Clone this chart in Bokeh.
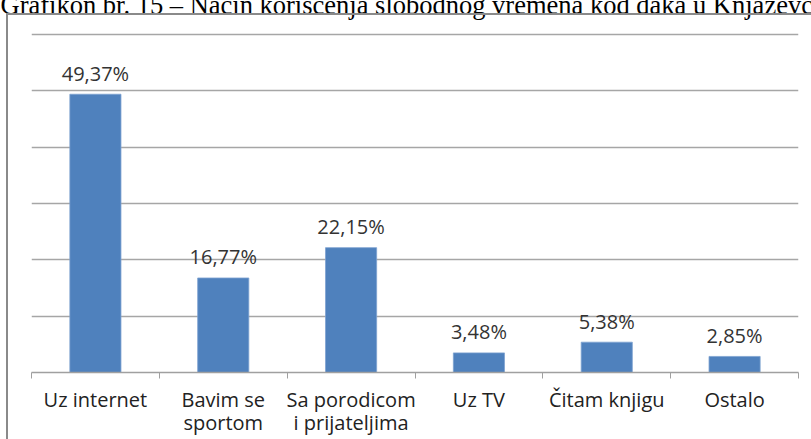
from bokeh.plotting import figure
from bokeh.models import ColumnDataSource, FixedTicker, Title, GlobalInlineStyleSheet
from bokeh.core.properties import value
from bokeh.embed import file_html
from bokeh.resources import INLINE

categories = ["Uz internet", "Bavim se\nsportom", "Sa porodicom\ni prijateljima",
              "Uz TV", "Čitam knjigu", "Ostalo"]
values = [49.37, 16.77, 22.15, 3.48, 5.38, 2.85]
value_labels = ["49,37%", "16,77%", "22,15%", "3,48%", "5,38%", "2,85%"]
grid_ticks = [10, 20, 30, 40, 50, 60]
title_text = "Grafikon br. 15 – Način korišćenja slobodnog vremena kod đaka u Knjaževcu"

n = len(categories)
centers = [i + 0.5 for i in range(n)]
bounds = list(range(n + 1))

src = ColumnDataSource(dict(x=centers, top=values, lab=value_labels))

p = figure(width=811, height=470, x_range=(0, n), y_range=(0, 60.5),
           output_backend="svg", toolbar_location=None,
           min_border_left=31, min_border_right=13, min_border_top=62, min_border_bottom=67)
p.outline_line_color = None
p.background_fill_color = "white"
p.border_fill_color = "white"

p.vbar(x="x", top="top", width=0.4, bottom=0, source=src,
       fill_color="#4F81BD", line_color="#7da2d0", line_width=0.8)
p.text(x="x", y="top", text="lab", source=src, text_align="center",
       text_baseline="alphabetic", y_offset=-21,
       text_font=value("Open Sans"), text_font_size="20px", text_color="#333333")

p.xgrid.visible = False
p.yaxis.visible = False
p.ygrid.ticker = FixedTicker(ticks=grid_ticks)
p.ygrid.grid_line_color = "#a6a6a6"
p.ygrid.grid_line_width = 1.5

ax = p.xaxis[0]
ax.ticker = FixedTicker(ticks=centers, minor_ticks=bounds)
ax.major_label_overrides = {c: lab for c, lab in zip(centers, categories)}
ax.major_tick_out = 6
ax.major_tick_in = 0
ax.major_tick_line_color = None
ax.minor_tick_out = 6
ax.minor_tick_in = 0
ax.minor_tick_line_color = "#a0a0a0"
ax.axis_line_color = "#a0a0a0"
ax.axis_line_width = 1.5
ax.major_label_text_font = "Open Sans"
ax.major_label_text_font_size = "20px"
ax.major_label_text_line_height = 0.88
ax.major_label_text_color = "#222222"
ax.major_label_standoff = 7

t = Title(text=title_text, text_font="Liberation Serif", text_font_size="26.5px",
          text_font_style="normal", text_color="black", align="left",
          offset=-31, standoff=24)
p.add_layout(t, "above")

css = GlobalInlineStyleSheet(css="""
html, body { margin: 0; padding: 0; overflow: hidden; }
body::after { content: ''; position: fixed; left: 6px; top: 13px; right: -20px; bottom: -20px;
  border-left: 2px solid #8a8a8a; border-top: 2px solid #8a8a8a; pointer-events: none; }
""")
p.stylesheets = [css]
p.styles = {"transform": "translateY(-31px)"}

open("out.html", "w").write(file_html(p, INLINE))
